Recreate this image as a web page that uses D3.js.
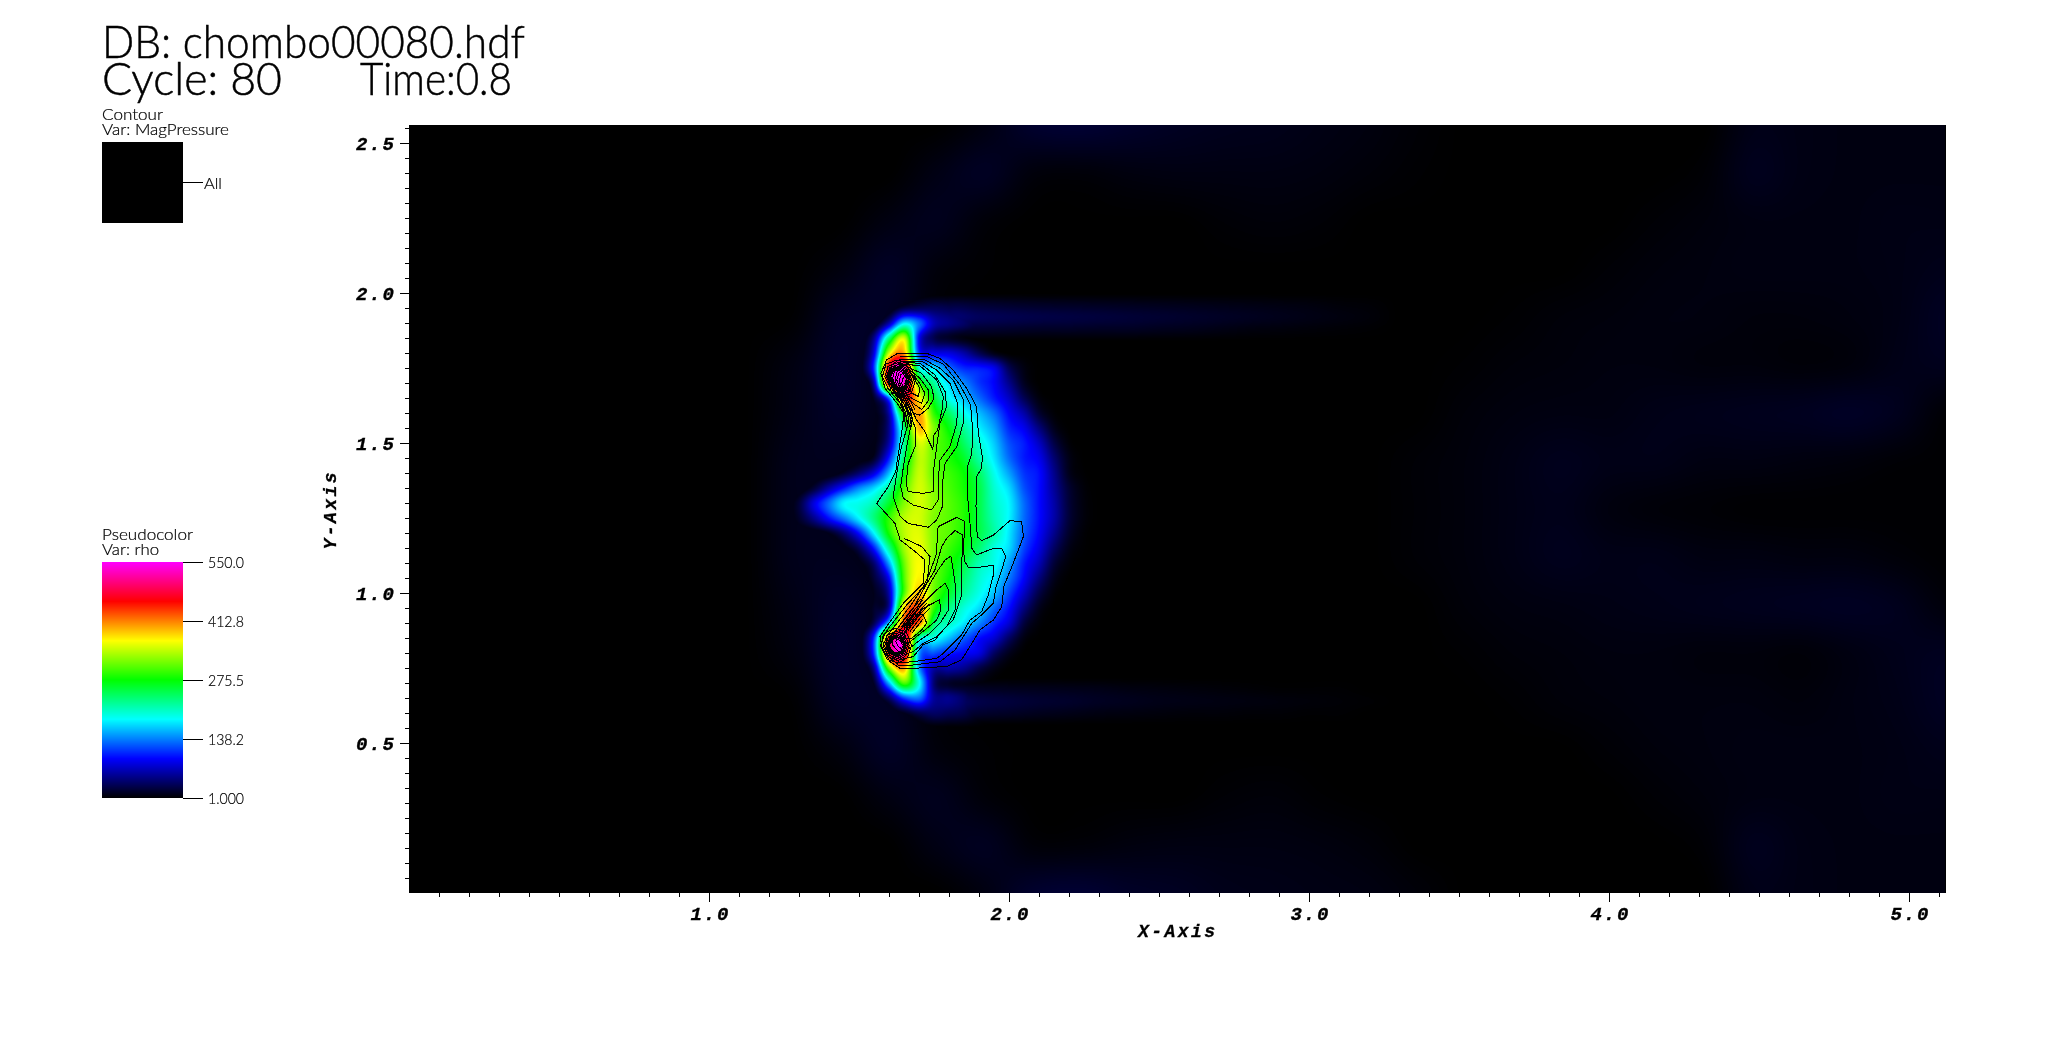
<!DOCTYPE html>
<html><head><meta charset="utf-8">
<script src="https://cdn.jsdelivr.net/npm/d3@7"></script>
<style>html,body{margin:0;background:#fff;overflow:hidden}#wrap{position:relative;width:2048px;height:1051px}canvas,svg{position:absolute;left:0;top:0}</style>
</head><body><div id="wrap"><canvas id="field" width="2048" height="1051"></canvas><svg id="chart" width="2048" height="1051"></svg></div>
<script>
const xDomain=[0,5.12], yDomain=[0,2.56];
const xMajor=[1,2,3,4,5], yMajor=[0.5,1,1.5,2,2.5];
const legendValues=[550,412.8,275.5,138.2,1];
const legendLabels=["550.0","412.8","275.5","138.2","1.000"];
const colorStops=["#000000","#0000ff","#00ffff","#00ff00","#ffff00","#ff0000","#ff00ff"];

// far field rho, x 0..5.12 step .16, y 2.56 down to 0 step .16
const farRho=[
[0,0,0,0,0,0,0,0,0,0,0,0,6,16,18,15,12,10,9,7,5,2,0,0,0,0,0,0,8,7,6,6,6],
[0,0,0,0,0,0,0,0,0,0,0,7,12,4,3,5,6,6,6,5,3,1,0,0,0,0,0,2,10,7,6,6,6],
[0,0,0,0,0,0,0,0,0,0,6,10,3,0,0,0,0,2,3,2,0,0,0,0,0,0,2,4,6,6,6,7,7],
[0,0,0,0,0,0,0,0,0,5,13,4,1,0,0,0,0,0,0,0,0,0,0,0,0,2,4,5,6,6,6,7,9],
[0,0,0,0,0,0,0,0,1,13,12,2,0,0,0,0,0,0,0,0,0,0,0,1,3,4,5,5,4,4,5,7,12],
[0,0,0,0,0,0,0,0,6,15,7,0,0,0,0,0,0,0,0,0,0,0,1,3,4,5,5,4,4,3,4,8,10],
[0,0,0,0,0,0,0,0,7,14,7,0,0,0,0,0,0,0,0,0,0,0,3,5,6,6,8,9,10,11,13,10,2],
[0,0,0,0,0,0,0,0,9,10,5,0,0,0,0,0,0,0,0,0,0,2,4,7,10,8,8,6,6,5,4,2,1],
[0,0,0,0,0,0,0,0,9,8,3,0,0,0,0,0,0,0,0,0,0,2,4,7,9,5,3,2,1,1,1,1,1],
[0,0,0,0,0,0,0,0,9,10,5,0,0,0,0,0,0,0,0,0,0,2,4,7,10,8,8,6,6,5,5,3,1],
[0,0,0,0,0,0,0,0,7,14,7,0,0,0,0,0,0,0,0,0,0,0,3,5,6,7,8,9,10,11,12,10,4],
[0,0,0,0,0,0,0,0,5,15,7,0,0,0,0,0,0,0,0,0,0,0,1,3,4,5,5,4,4,3,6,9,11],
[0,0,0,0,0,0,0,0,1,13,12,2,0,0,0,0,0,0,0,0,0,0,0,1,3,4,5,5,5,4,6,8,12],
[0,0,0,0,0,0,0,0,0,5,13,4,1,0,0,0,0,0,0,0,0,0,0,0,0,2,4,5,6,6,6,7,9],
[0,0,0,0,0,0,0,0,0,0,6,10,3,0,0,0,0,2,3,1,0,0,0,0,0,0,2,4,6,6,6,7,7],
[0,0,0,0,0,0,0,0,0,0,0,7,11,3,3,5,6,6,6,5,3,0,0,0,0,0,0,2,10,7,6,6,6],
[0,0,0,0,0,0,0,0,0,0,0,0,6,16,18,14,12,9,8,7,6,3,0,0,0,0,0,0,8,7,6,6,6]];

// body rho, x 1.25..2.30 step .05, y 2.00 down to .55 step .05
const bodyRho=[
[0,0,0,0,0,0,0,0,0,0,0,0,0,0,0,0,0,0,0,0,0,0],
[0,0,0,0,0,0,0,0,25,32,32,28,22,10,0,0,0,0,0,0,0,0],
[0,0,0,0,0,0,0,60,175,130,65,48,36,20,0,0,0,0,0,0,0,0],
[0,0,0,0,0,0,50,230,350,90,28,14,6,0,0,0,0,0,0,0,0,0],
[0,0,0,0,0,0,80,350,400,110,85,80,60,30,8,0,0,0,0,0,0,0],
[0,0,0,0,0,0,110,480,530,200,175,130,105,100,85,30,6,0,0,0,0,0],
[0,0,0,0,0,0,60,470,535,300,220,170,140,110,90,50,12,0,0,0,0,0],
[0,0,0,0,0,0,15,130,450,370,260,190,160,130,100,70,30,5,0,0,0,0],
[0,0,0,0,0,0,5,60,300,400,290,240,190,160,130,90,60,18,2,0,0,0],
[0,0,0,0,0,0,5,50,230,390,320,270,220,180,150,105,85,45,10,0,0,0],
[0,0,0,0,0,0,5,60,220,350,310,285,240,200,165,120,100,70,25,3,0,0],
[0,0,0,0,0,2,15,100,240,340,310,285,260,215,175,130,100,85,40,8,0,0],
[0,0,0,0,15,40,80,160,270,345,310,295,275,240,190,150,110,95,50,10,1,0],
[0,0,20,60,100,140,170,220,300,350,320,300,280,250,200,170,120,95,55,18,3,0],
[0,20,80,130,180,190,210,260,320,350,325,305,285,250,205,180,130,95,60,20,4,0],
[0,15,50,95,135,180,230,290,340,350,320,305,285,250,210,180,130,95,60,20,4,0],
[0,0,0,10,40,95,180,280,340,355,320,305,280,250,215,175,125,90,50,15,2,0],
[0,0,0,0,5,30,100,220,330,360,320,295,270,235,195,170,115,80,35,8,1,0],
[0,0,0,0,0,5,40,150,310,365,315,285,250,210,190,150,100,65,20,3,0,0],
[0,0,0,0,0,0,20,90,300,370,315,275,235,200,175,135,90,45,10,0,0,0],
[0,0,0,0,0,0,10,60,300,390,310,260,220,190,160,115,70,25,3,0,0,0],
[0,0,0,0,0,0,15,60,380,430,290,230,195,170,130,95,45,10,0,0,0,0],
[0,0,0,0,0,0,30,170,440,420,240,205,175,140,105,75,22,3,0,0,0,0],
[0,0,0,0,0,0,110,450,520,210,190,160,125,95,75,35,6,0,0,0,0,0],
[0,0,0,0,0,0,110,460,500,150,120,100,90,80,35,10,0,0,0,0,0,0],
[0,0,0,0,0,0,50,310,400,150,60,60,50,25,8,0,0,0,0,0,0,0],
[0,0,0,0,0,0,15,155,300,190,40,15,10,5,0,0,0,0,0,0,0,0],
[0,0,0,0,0,0,0,35,110,130,55,50,35,10,0,0,0,0,0,0,0,0],
[0,0,0,0,0,0,0,0,10,28,35,30,25,10,0,0,0,0,0,0,0,0],
[0,0,0,0,0,0,0,0,0,0,0,0,0,0,0,0,0,0,0,0,0,0]];

// tails, x 1.70..3.30 step .1
const tailUpperRho=[
[0,0,0,0,0,0,0,0,0,0,0,0,0,0,0,0,0],
[0,22,19,16,14,13,12,11,10,9,8,7,6,5,3,2,0],
[0,38,32,28,25,23,21,19,17,15,13,11,9,7,5,3,0],
[0,18,17,15,13,13,12,12,10,9,7,5,4,3,2,1,0],
[0,0,0,0,0,0,0,0,0,0,0,0,0,0,0,0,0]];
const tailLowerRho=[
[0,0,0,0,0,0,0,0,0,0,0,0,0,0,0,0,0],
[0,18,13,11,10,9,8,6,5,4,3,2,1,1,1,0,0],
[0,36,26,21,17,15,12,10,8,7,6,5,4,3,2,1,0],
[0,22,16,13,10,8,6,5,4,3,3,2,2,1,1,0,0],
[0,0,0,0,0,0,0,0,0,0,0,0,0,0,0,0,0]];

// MagPressure contour lines as [x,y] in axis units
const contourOuter=[[1.626,1.798],[1.731,1.798],[1.770,1.783],[1.814,1.744],[1.859,1.683],[1.892,1.622],[1.898,1.533],[1.911,1.456],[1.909,1.417],[1.892,1.389],[1.890,1.289],[1.894,1.189],[1.909,1.175],[1.948,1.194],[2.003,1.242],[2.042,1.239],[2.048,1.189],[2.014,1.100],[1.983,1.024],[1.976,.956],[1.948,.911],[1.903,.878],[1.876,.833],[1.842,.778],[1.792,.756],[1.681,.750],[1.637,.750],[1.603,.772],[1.576,.822],[1.570,.856],[1.592,.889],[1.648,.967],[1.714,1.033],[1.720,1.111],[1.681,1.144],[1.637,1.178],[1.620,1.233],[1.559,1.300],[1.598,1.356],[1.623,1.406],[1.626,1.433],[1.642,1.533],[1.650,1.600],[1.631,1.628],[1.587,1.683],[1.573,1.733],[1.592,1.778],[1.626,1.798]];
const contourSecond=[[1.637,1.789],[1.726,1.789],[1.781,1.764],[1.837,1.694],[1.872,1.628],[1.879,1.544],[1.876,1.467],[1.862,1.422],[1.862,1.322],[1.870,1.233],[1.876,1.150],[1.892,1.128],[1.948,1.150],[1.976,1.150],[1.989,1.122],[1.976,1.078],[1.957,1.022],[1.948,.967],[1.914,.933],[1.876,.900],[1.848,.856],[1.820,.811],[1.770,.772],[1.681,.761],[1.631,.761],[1.598,.789],[1.581,.822],[1.579,.856],[1.598,.883],[1.659,.961],[1.726,1.033],[1.737,1.122],[1.709,1.156],[1.650,1.183]];
const contourArches=[
[[1.714,1.022],[1.731,1.056],[1.759,1.133],[1.761,1.200],[1.764,1.222],[1.826,1.253],[1.853,1.239],[1.848,1.144],[1.853,1.106],[1.864,1.087],[1.903,1.087],[1.948,1.094],[1.948,1.061],[1.931,.994],[1.909,.939],[1.870,.911],[1.842,.861],[1.820,.839],[1.781,.800],[1.759,.783],[1.681,.772],[1.637,.769],[1.603,.794],[1.590,.822],[1.590,.856],[1.609,.878],[1.670,.956],[1.714,1.022]],
[[1.726,1.033],[1.753,1.078],[1.776,1.156],[1.792,1.183],[1.820,1.209],[1.846,1.194],[1.842,1.083],[1.842,.994],[1.814,.911],[1.781,.878],[1.753,.844],[1.714,.828],[1.681,.789],[1.642,.780],[1.614,.800],[1.601,.822],[1.601,.853],[1.620,.872],[1.681,.950],[1.726,1.033]],
[[1.737,1.033],[1.764,1.078],[1.787,1.111],[1.806,1.124],[1.814,1.078],[1.820,1.033],[1.820,.944],[1.792,.889],[1.759,.856],[1.714,.833],[1.681,.806],[1.648,.794],[1.626,.811],[1.612,.828],[1.614,.850],[1.631,.869],[1.692,.944],[1.737,1.033]],
[[1.703,.956],[1.759,1.011],[1.787,1.033],[1.798,1.011],[1.798,.944],[1.770,.900],[1.737,.867],[1.703,.844],[1.676,.822],[1.653,.809],[1.631,.822],[1.623,.839],[1.628,.856],[1.642,.867],[1.703,.956]],
[[1.714,.950],[1.768,.978],[1.773,.944],[1.759,.911],[1.726,.883],[1.692,.856],[1.664,.833],[1.642,.839],[1.639,.856],[1.659,.878],[1.714,.950]],
[[1.676,.928],[1.714,.928],[1.726,.900],[1.709,.878],[1.676,.850],[1.653,.850],[1.653,.867],[1.676,.928]]];
const contourU=[
[[1.637,1.781],[1.714,1.781],[1.770,1.750],[1.814,1.711],[1.848,1.644],[1.850,1.578],[1.826,1.489],[1.787,1.433],[1.778,1.367],[1.778,1.289],[1.759,1.244],[1.731,1.220],[1.664,1.233],[1.637,1.256],[1.614,1.322],[1.626,1.400],[1.639,1.478],[1.664,1.567],[1.642,1.628],[1.609,1.667],[1.594,1.722],[1.609,1.761],[1.637,1.781]],
[[1.642,1.774],[1.709,1.774],[1.759,1.744],[1.803,1.700],[1.829,1.633],[1.826,1.567],[1.803,1.489],[1.770,1.444],[1.764,1.378],[1.764,1.311],[1.742,1.278],[1.681,1.294],[1.648,1.317],[1.639,1.356],[1.648,1.422],[1.659,1.489],[1.676,1.572],[1.653,1.628],[1.620,1.667],[1.603,1.717],[1.614,1.750],[1.642,1.774]],
[[1.648,1.769],[1.703,1.767],[1.753,1.728],[1.787,1.672],[1.792,1.622],[1.770,1.567],[1.759,1.489],[1.750,1.422],[1.748,1.339],[1.714,1.333],[1.664,1.339],[1.657,1.367],[1.664,1.433],[1.687,1.489],[1.690,1.544],[1.670,1.600],[1.631,1.661],[1.612,1.717],[1.620,1.744],[1.648,1.769]],
[[1.653,1.764],[1.703,1.758],[1.759,1.711],[1.781,1.656],[1.778,1.617],[1.762,1.544],[1.750,1.528],[1.746,1.480],[1.731,1.511],[1.720,1.539],[1.692,1.578],[1.676,1.611],[1.637,1.656],[1.620,1.711],[1.628,1.744],[1.653,1.764]],
[[1.659,1.756],[1.709,1.733],[1.742,1.689],[1.750,1.650],[1.731,1.617],[1.703,1.594],[1.681,1.600],[1.648,1.656],[1.626,1.711],[1.634,1.736],[1.659,1.756]],
[[1.664,1.748],[1.703,1.717],[1.731,1.678],[1.733,1.644],[1.709,1.613],[1.687,1.628],[1.653,1.658],[1.634,1.706],[1.639,1.728],[1.664,1.748]],
[[1.670,1.739],[1.698,1.706],[1.720,1.667],[1.709,1.633],[1.687,1.644],[1.659,1.661],[1.642,1.700],[1.648,1.720],[1.670,1.739]],
[[1.676,1.728],[1.703,1.683],[1.698,1.656],[1.676,1.667],[1.653,1.700],[1.657,1.713],[1.676,1.728]]];
// dense stacks of lines beside each peak
const stripesUpper=[
[[1.606,1.688],[1.632,1.645],[1.650,1.600],[1.655,1.555]],
[[1.612,1.688],[1.638,1.645],[1.656,1.600],[1.662,1.555]],
[[1.618,1.688],[1.644,1.645],[1.662,1.600],[1.668,1.555]],
[[1.624,1.688],[1.650,1.645],[1.668,1.600],[1.675,1.555]],
[[1.630,1.688],[1.656,1.645],[1.674,1.600],[1.682,1.560]],
[[1.636,1.688],[1.662,1.645],[1.680,1.605]],
[[1.642,1.688],[1.668,1.648],[1.686,1.612]]];
const stripesLower=[
[[1.635,.892],[1.672,.942],[1.705,.980]],
[[1.642,.888],[1.679,.938],[1.712,.976]],
[[1.649,.884],[1.686,.934],[1.719,.972]],
[[1.656,.880],[1.693,.930],[1.726,.968]],
[[1.663,.876],[1.700,.926],[1.733,.964]],
[[1.670,.872],[1.707,.922],[1.735,.950]],
[[1.677,.868],[1.714,.915]]];
// tight rings round the two density peaks
const ringsUpper=[
[[1.628,1.778],[1.667,1.764],[1.690,1.716],[1.674,1.666],[1.637,1.652],[1.598,1.680],[1.578,1.722],[1.590,1.764]],
[[1.630,1.769],[1.661,1.757],[1.682,1.713],[1.668,1.672],[1.637,1.660],[1.604,1.686],[1.586,1.722],[1.597,1.757]],
[[1.631,1.763],[1.657,1.751],[1.676,1.712],[1.664,1.677],[1.637,1.666],[1.609,1.690],[1.592,1.722],[1.602,1.751]],
[[1.633,1.757],[1.654,1.747],[1.671,1.711],[1.659,1.681],[1.636,1.671],[1.612,1.693],[1.597,1.722],[1.607,1.747]],
[[1.632,1.753],[1.651,1.744],[1.667,1.712],[1.656,1.684],[1.635,1.675],[1.614,1.695],[1.600,1.722],[1.609,1.744]],
[[1.631,1.749],[1.648,1.741],[1.664,1.712],[1.654,1.686],[1.635,1.678],[1.616,1.697],[1.603,1.722],[1.611,1.741]],
[[1.630,1.745],[1.645,1.737],[1.660,1.712],[1.652,1.689],[1.634,1.682],[1.618,1.699],[1.606,1.722],[1.614,1.738]]];
const ringsLower=[
[[1.622,.884],[1.658,.871],[1.675,.826],[1.662,.786],[1.630,.767],[1.594,.780],[1.571,.825],[1.588,.869]],
[[1.622,.874],[1.652,.863],[1.667,.826],[1.656,.792],[1.630,.776],[1.600,.787],[1.580,.825],[1.595,.861]],
[[1.622,.868],[1.648,.857],[1.662,.826],[1.652,.796],[1.630,.782],[1.604,.792],[1.585,.825],[1.599,.855]],
[[1.622,.862],[1.645,.853],[1.657,.826],[1.648,.800],[1.629,.788],[1.607,.797],[1.590,.825],[1.603,.851]],
[[1.621,.858],[1.642,.850],[1.654,.826],[1.645,.803],[1.628,.791],[1.609,.800],[1.593,.825],[1.605,.848]],
[[1.621,.854],[1.640,.847],[1.651,.826],[1.643,.805],[1.628,.795],[1.611,.803],[1.596,.825],[1.608,.845]],
[[1.620,.850],[1.637,.843],[1.647,.826],[1.640,.808],[1.627,.800],[1.612,.807],[1.600,.825],[1.610,.841]]];

const x=d3.scaleLinear().domain(xDomain).range([409,1945]);
const y=d3.scaleLinear().domain(yDomain).range([893.3,125.3]);
const norm=d3.scaleLinear().domain([1,550]).range([0,1]).clamp(true);
const color=d3.scaleLinear().domain(d3.range(7).map(i=>i/6)).range(colorStops).clamp(true);

// ---------- field ----------
function cr(a,b,c,d,t){return 0.5*(2*b+(c-a)*t+(2*a-5*b+4*c-d)*t*t+(3*b-a-3*c+d)*t*t*t);}
function patch(grid,x0,dx,yTop,dy){
  const R=grid.length,C=grid[0].length;
  const at=(r,c)=>grid[Math.max(0,Math.min(R-1,r))][Math.max(0,Math.min(C-1,c))];
  return (vx,vy)=>{
    const u=(vx-x0)/dx,v=(yTop-vy)/dy;
    if(u<0||v<0||u>C-1||v>R-1) return 0;
    const c=Math.floor(u),r=Math.floor(v),fu=u-c,fv=v-r,row=[];
    for(let k=-1;k<=2;k++) row.push(cr(at(r+k,c-1),at(r+k,c),at(r+k,c+1),at(r+k,c+2),fu));
    return cr(row[0],row[1],row[2],row[3],fv);
  };
}
const layers=[patch(farRho,0,.16,2.56,.16),patch(bodyRho,1.25,.05,2.0,.05),
  patch(tailUpperRho,1.7,.1,2.0,.04),patch(tailLowerRho,1.7,.1,.72,.04)];
const stops=d3.range(1024).map(i=>d3.rgb(color(i/1023)));
const px0=409,py0=125,pw=1537,ph=768;
const ctx=document.getElementById('field').getContext('2d');
const img=ctx.createImageData(pw,ph);
for(let j=0;j<ph;j++){const vy=y.invert(py0+j+.5);
  for(let i=0;i<pw;i++){const vx=x.invert(px0+i+.5);
    let rho=0;for(const f of layers){const val=f(vx,vy);if(val>rho)rho=val;}
    const s=stops[Math.round(norm(rho+1)*1023)],o=(j*pw+i)*4;
    img.data[o]=s.r;img.data[o+1]=s.g;img.data[o+2]=s.b;img.data[o+3]=255;}}
ctx.putImageData(img,px0,py0);

// ---------- contours ----------
const svg=d3.select('#chart');
const line=d3.line().x(d=>x(d[0])).y(d=>y(d[1])).curve(d3.curveLinear);
const allLines=[contourOuter,contourSecond,...contourArches,...contourU,...stripesUpper,...stripesLower,...ringsUpper.map(r=>[...r,r[0]]),...ringsLower.map(r=>[...r,r[0]])];
svg.append('g').selectAll('path').data(allLines).join('path').attr('d',line)
  .attr('fill','none').attr('stroke','#000').attr('stroke-width',1).attr('shape-rendering','crispEdges');

// ---------- axes ----------
const monoFont='"Liberation Mono",monospace';
function style(g){g.select('.domain').remove();g.selectAll('line').attr('stroke','#000').attr('shape-rendering','crispEdges');}
const xMinor=d3.range(1,52).map(i=>i/10), yMinor=d3.range(1,52).map(i=>i/20);
svg.append('g').attr('transform','translate(0,893)').call(d3.axisBottom(x).tickValues(xMinor).tickSize(4).tickFormat('')).call(style);
svg.append('g').attr('transform','translate(409,0)').call(d3.axisLeft(y).tickValues(yMinor).tickSize(4).tickFormat('')).call(style);
const xa=svg.append('g').attr('transform','translate(0,893)').call(d3.axisBottom(x).tickValues(xMajor).tickSize(9).tickFormat(d3.format('.1f'))).call(style);
const ya=svg.append('g').attr('transform','translate(409,0)').call(d3.axisLeft(y).tickValues(yMajor).tickSize(9).tickFormat(d3.format('.1f'))).call(style);
function tickText(sel){sel.attr('font-family',monoFont).attr('font-weight','bold').attr('font-style','italic').attr('font-size',19).attr('fill','#000').attr('stroke','#000').attr('stroke-width',.35).attr('textLength',38).attr('lengthAdjust','spacing');}
xa.selectAll('text').call(tickText).attr('text-anchor','middle').attr('y',27).attr('dy',0);
ya.selectAll('text').call(tickText).attr('text-anchor','end').attr('x',-15).attr('dy',0).attr('transform','translate(0,6)');
const axisTitle=(t,a,b,rot)=>svg.append('text').text(t).attr('font-family',monoFont).attr('font-weight','bold').attr('font-style','italic').attr('font-size',18).attr('stroke','#000').attr('stroke-width',.3).attr('textLength',77).attr('lengthAdjust','spacing').attr('text-anchor','middle').attr('transform',`translate(${a},${b}) rotate(${rot})`);
axisTitle('X-Axis',1176.5,937,0);
axisTitle('Y-Axis',336,511,-90);

// ---------- annotations ----------
const sans='Lato,"Liberation Sans",sans-serif';
function label(t,px,py,fs,len,w,st){const s=svg.append('text').text(t).attr('x',px).attr('y',py).attr('font-family',sans).attr('font-size',fs).attr('font-weight',w||400).attr('fill','#000');if(st)s.attr('stroke','#000').attr('stroke-width',st);if(len)s.attr('textLength',len).attr('lengthAdjust','spacingAndGlyphs');return s;}
label('DB: chombo00080.hdf',102,58,45,423,300,.5);
label('Cycle: 80',102,95,45,180,300,.5);
label('Time:0.8',360,95,45,152,300,.5);
label('Contour',102,120,15,61,300,.2);
label('Var: MagPressure',102,135,15,127,300,.2);
svg.append('rect').attr('x',102).attr('y',142).attr('width',81).attr('height',81).attr('fill','#000');
svg.append('line').attr('x1',183).attr('x2',203).attr('y1',182.5).attr('y2',182.5).attr('stroke','#000').attr('shape-rendering','crispEdges');
label('All',204,189,15,18,300,.2);
label('Pseudocolor',102,540,15,91,300,.2);
label('Var: rho',102,555,15,57,300,.2);
const ly=d3.scaleLinear().domain([1,550]).range([798,562]);
svg.append('g').selectAll('rect').data(d3.range(0,236)).join('rect')
  .attr('x',102).attr('width',81).attr('y',d=>562+d).attr('height',1)
  .attr('fill',d=>color(norm(ly.invert(562+d+.5)))).attr('shape-rendering','crispEdges');
legendValues.forEach((v,i)=>{const p=Math.round(ly(v))+.5;
  svg.append('line').attr('x1',183).attr('x2',203).attr('y1',p).attr('y2',p).attr('stroke','#000').attr('shape-rendering','crispEdges');
  label(legendLabels[i],208,p+5,15,36,300,.2);});
</script></body></html>
